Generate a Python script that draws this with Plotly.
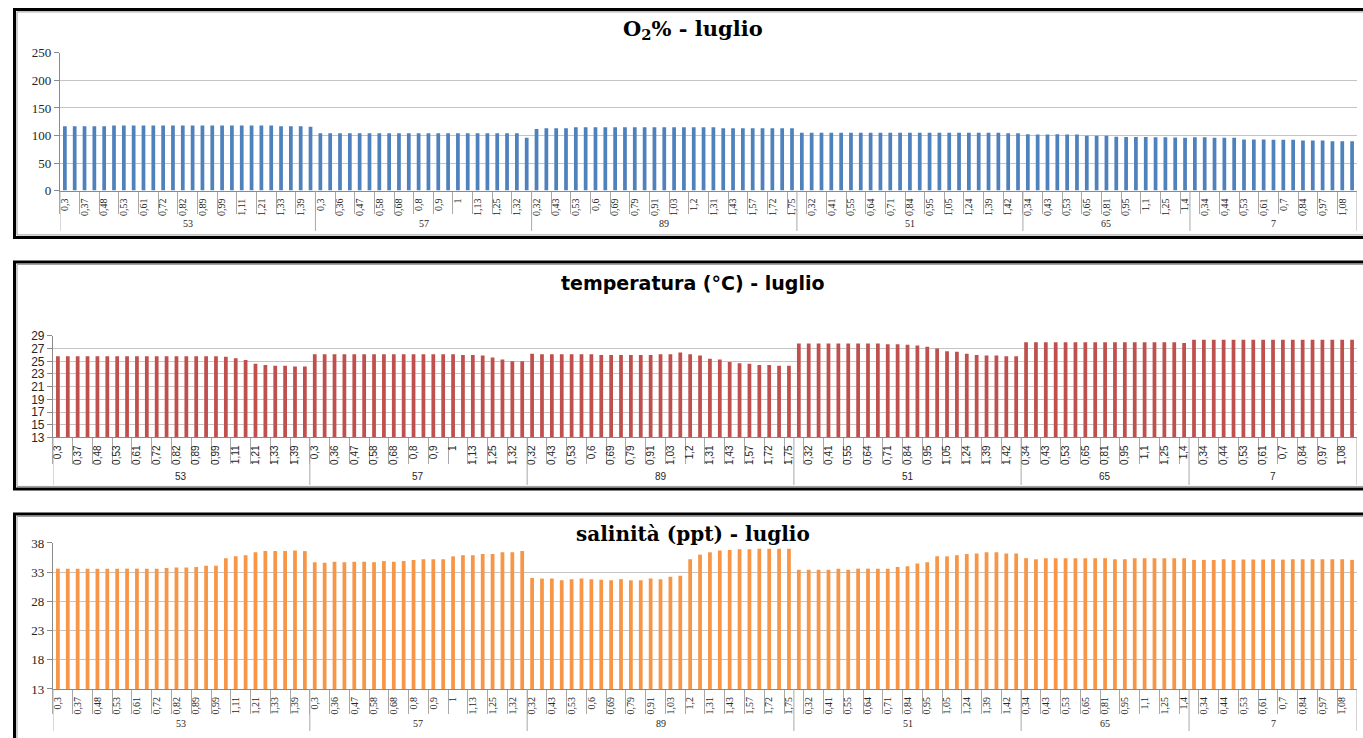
import plotly.graph_objects as go

# ---------------- data ----------------
stations = ["53", "57", "89", "51", "65", "7"]

# depth labels (only every other label is shown on the original axis; "" = not shown)
depth_53 = ["0,3", "", "0,37", "", "0,48", "", "0,53", "", "0,61", "", "0,72", "", "0,82", "",
            "0,89", "", "0,99", "", "1,11", "", "1,21", "", "1,33", "", "1,39", ""]
depth_57 = ["0,3", "", "0,36", "", "0,47", "", "0,58", "", "0,68", "", "0,8", "", "0,9", "",
            "1", "", "1,13", "", "1,25", "", "1,32", ""]
depth_89 = ["0,32", "", "0,43", "", "0,53", "", "0,6", "", "0,69", "", "0,79", "", "0,91", "",
            "1,03", "", "1,2", "", "1,31", "", "1,43", "", "1,57", "", "1,72", "", "1,75"]
depth_51 = ["", "0,32", "", "0,41", "", "0,55", "", "0,64", "", "0,71", "", "0,84", "", "0,95",
            "", "1,05", "", "1,24", "", "1,39", "", "1,42", ""]
depth_65 = ["0,34", "", "0,43", "", "0,53", "", "0,65", "", "0,81", "", "0,95", "", "1,1", "",
            "1,25", "", "1,4"]
depth_7 = ["", "0,34", "", "0,44", "", "0,53", "", "0,61", "", "0,7", "", "0,84", "", "0,97",
           "", "1,08", ""]

o2_53 = [117, 117, 117, 117, 117, 118, 118, 118, 118, 118, 118, 118, 118, 118, 118, 118, 118,
         118, 118, 118, 118, 118, 117, 117, 117, 116]
o2_57 = [104, 104, 104, 104, 104, 104, 104, 104, 104, 104, 104, 104, 104, 104, 104, 104, 104,
         104, 104, 104, 104, 96]
o2_89 = [112, 113, 113, 113, 115, 115, 115, 115, 115, 115, 115, 115, 115, 115, 115, 115, 115,
         115, 115, 113, 113, 113, 113, 113, 113, 113, 113]
o2_51 = [105, 105, 105, 105, 105, 105, 105, 105, 105, 105, 105, 105, 105, 105, 105, 105, 105,
         105, 105, 105, 105, 104, 104]
o2_65 = [102.5, 102, 102, 102.5, 102, 102, 99.5, 99.5, 99.5, 98, 97.5, 97.5, 97.5, 97, 97,
         96.5, 96]
o2_7 = [97, 97, 96, 96, 96, 93, 93, 93, 92.5, 92.5, 92.5, 91, 91, 91, 89.5, 89.5, 89.5]

temp_53 = [25.8, 25.8, 25.8, 25.8, 25.8, 25.8, 25.8, 25.8, 25.8, 25.8, 25.8, 25.8, 25.8, 25.8,
           25.8, 25.8, 25.8, 25.7, 25.5, 25.2, 24.6, 24.4, 24.3, 24.3, 24.2, 24.2]
temp_57 = [26.1, 26.1, 26.1, 26.1, 26.1, 26.1, 26.1, 26.1, 26.1, 26.1, 26.1, 26.1, 26.1, 26.1,
           26.1, 26.0, 26.0, 25.9, 25.6, 25.3, 25.0, 25.0]
temp_89 = [26.2, 26.1, 26.1, 26.1, 26.1, 26.1, 26.1, 26.0, 26.0, 26.0, 26.0, 26.0, 26.0, 26.1,
           26.1, 26.4, 26.1, 25.9, 25.4, 25.3, 24.9, 24.7, 24.6, 24.4, 24.4, 24.3, 24.3]
temp_51 = [27.8, 27.8, 27.8, 27.8, 27.8, 27.8, 27.8, 27.8, 27.8, 27.7, 27.7, 27.6, 27.5, 27.3,
           27.0, 26.6, 26.5, 26.2, 26.0, 25.9, 25.9, 25.8, 25.8]
temp_65 = [28.0, 28.0, 28.0, 28.0, 28.0, 28.0, 28.0, 28.0, 28.0, 28.0, 28.0, 28.0, 28.0, 28.0,
           28.0, 28.0, 27.9]
temp_7 = [28.4, 28.4, 28.4, 28.4, 28.4, 28.4, 28.4, 28.4, 28.4, 28.4, 28.4, 28.4, 28.4, 28.4,
          28.4, 28.4, 28.4]

sal_53 = [33.6, 33.6, 33.6, 33.6, 33.6, 33.6, 33.6, 33.6, 33.6, 33.6, 33.6, 33.7, 33.8, 33.8,
          33.9, 34.1, 34.1, 35.4, 35.7, 35.9, 36.4, 36.6, 36.6, 36.6, 36.7, 36.6]
sal_57 = [34.7, 34.6, 34.8, 34.7, 34.8, 34.8, 34.7, 34.9, 34.8, 34.9, 35.1, 35.2, 35.2, 35.2,
          35.7, 35.9, 35.9, 36.1, 36.1, 36.4, 36.4, 36.6]
sal_89 = [32.0, 31.9, 31.9, 31.6, 31.8, 31.9, 31.8, 31.7, 31.6, 31.8, 31.6, 31.6, 31.9, 31.8,
          32.2, 32.4, 35.2, 36.0, 36.4, 36.7, 36.8, 36.9, 36.9, 37.0, 37.0, 37.0, 37.0]
sal_51 = [33.4, 33.4, 33.4, 33.4, 33.6, 33.4, 33.6, 33.6, 33.6, 33.6, 33.9, 34.0, 34.5, 34.7,
          35.7, 35.7, 35.9, 36.1, 36.2, 36.4, 36.4, 36.2, 36.2]
sal_65 = [35.4, 35.2, 35.4, 35.4, 35.4, 35.4, 35.4, 35.4, 35.4, 35.2, 35.2, 35.4, 35.4, 35.4,
          35.4, 35.4, 35.4]
sal_7 = [35.1, 35.1, 35.1, 35.2, 35.1, 35.15, 35.15, 35.15, 35.2, 35.15, 35.2, 35.2, 35.2, 35.2,
         35.2, 35.2, 35.1]

o2_ticks = [0, 50, 100, 150, 200, 250]
temp_ticks = [13, 15, 17, 19, 21, 23, 25, 27, 29]
sal_ticks = [13, 18, 23, 28, 33, 38]

# ---------------- assemble ----------------
depth_groups = [depth_53, depth_57, depth_89, depth_51, depth_65, depth_7]
o2_all = o2_53 + o2_57 + o2_89 + o2_51 + o2_65 + o2_7
temp_all = temp_53 + temp_57 + temp_89 + temp_51 + temp_65 + temp_7
sal_all = sal_53 + sal_57 + sal_89 + sal_51 + sal_65 + sal_7
depth_all = [d for g in depth_groups for d in g]
N = len(depth_all)
xs = list(range(N))

tickvals = [i for i, d in enumerate(depth_all) if d]
ticktext = [depth_all[i] for i in tickvals]
minor_vals = [i - 0.5 for i in tickvals]

group_starts = []
s = 0
for g in depth_groups:
    group_starts.append(s)
    s += len(g)
boundaries = [st - 0.5 for st in group_starts] + [N - 0.5]
centers = [st + (len(g) - 1) / 2 for st, g in zip(group_starts, depth_groups)]

W, H = 1363, 738
# the photographed page maps layout y to screen y as  y_screen = 0.9796 * y + 7.1
Y_SCALE, Y_OFF = 0.9796, 7.1


def fx(p):
    return p / W


def fy(p):
    return 1 - ((p - Y_OFF) / Y_SCALE) / H


SERIF = "Liberation Serif, Times New Roman, serif"
SANS = "Liberation Sans, Arial, sans-serif"
GRID = "#c4c4c4"
AXIS = "#8a8a8a"
TXT = "#262626"

panels = [
    dict(vals=o2_all, color="#4F81BD", ticks=o2_ticks, rng=[0, 250], font=SERIF, ysize=13,
         left=59, top=53, bottom=190.7, tick_bottom=213, group_y=224, div_bottom=231,
         title="O<sub>2</sub>% - luglio", title_y=30, title_size=21,
         title_font="DejaVu Serif, serif", frame=(9.5, 237.5)),
    dict(vals=temp_all, color="#C0504D", ticks=temp_ticks, rng=[13, 29], font=SANS, ysize=12,
         left=52, top=336, bottom=437.5, tick_bottom=463, group_y=477, div_bottom=485,
         title="temperatura (°C) - luglio", title_y=283, title_size=19,
         title_font="DejaVu Sans, sans-serif", frame=(262, 489)),
    dict(vals=sal_all, color="#F79646", ticks=sal_ticks, rng=[13, 38], font=SERIF, ysize=13,
         left=52, top=543, bottom=689, tick_bottom=713, group_y=724, div_bottom=731,
         title="salinità (ppt) - luglio", title_y=534, title_size=20,
         title_font="DejaVu Serif, serif", frame=(514, 760)),
]

fig = go.Figure()
layout = dict(width=W, height=H, margin=dict(l=0, r=0, t=0, b=0), autosize=False,
              paper_bgcolor="white", plot_bgcolor="white", showlegend=False,
              bargap=0.6)
shapes = []
annotations = []

for k, p in enumerate(panels):
    sfx = "" if k == 0 else str(k + 1)
    xa, ya = "x" + sfx, "y" + sfx
    fig.add_trace(go.Bar(x=xs, y=p["vals"], marker=dict(color=p["color"], line=dict(width=0)),
                         xaxis=xa, yaxis=ya, width=0.38, hoverinfo="x+y"))
    tick_len = (p["tick_bottom"] - p["bottom"]) / Y_SCALE
    layout["xaxis" + sfx] = dict(
        domain=[fx(p["left"]), fx(1357)], anchor=ya, range=[-0.5, N - 0.5],
        tickmode="array", tickvals=tickvals, ticktext=ticktext, tickangle=-90,
        tickfont=dict(family=p["font"], size=10, color=TXT),
        ticks="outside", ticklen=3, tickcolor="rgba(0,0,0,0)",
        showline=True, linecolor=AXIS, linewidth=1, showgrid=False, zeroline=False,
        minor=dict(tickmode="array", tickvals=minor_vals, ticks="outside",
                   ticklen=tick_len, tickcolor="#a8a8a8", tickwidth=1),
        fixedrange=True)
    layout["yaxis" + sfx] = dict(
        domain=[fy(p["bottom"]), fy(p["top"])], anchor=xa, range=p["rng"],
        tickmode="array", tickvals=p["ticks"],
        tickfont=dict(family=p["font"], size=p["ysize"], color=TXT),
        ticks="outside", ticklen=5, tickcolor=AXIS,
        showline=True, linecolor=AXIS, linewidth=1,
        showgrid=True, gridcolor=GRID, gridwidth=1, zeroline=False, fixedrange=True)

    # group divider lines & group labels
    for b in boundaries:
        shapes.append(dict(type="line", xref=xa, yref="paper", x0=b, x1=b,
                           y0=fy(p["bottom"]), y1=fy(p["div_bottom"]),
                           line=dict(color="#a8a8a8", width=1)))
    for c, st in zip(centers, stations):
        annotations.append(dict(xref=xa, yref="paper", x=c, y=fy(p["group_y"]),
                                text=st, showarrow=False, xanchor="center", yanchor="middle",
                                font=dict(family=p["font"], size=10, color=TXT)))
    # title
    annotations.append(dict(xref="paper", yref="paper", x=fx(693), y=fy(p["title_y"]),
                            text="<b>" + p["title"] + "</b>", showarrow=False,
                            xanchor="center", yanchor="middle",
                            font=dict(family=p["title_font"], size=p["title_size"],
                                      color="black")))
    # frame
    t, bt = p["frame"]
    shapes.append(dict(type="rect", xref="paper", yref="paper", x0=fx(13.5), x1=fx(1400),
                       y0=fy(bt), y1=fy(t), line=dict(color="black", width=3),
                       fillcolor="rgba(0,0,0,0)", layer="above"))
    shapes.append(dict(type="rect", xref="paper", yref="paper", x0=fx(16), x1=fx(1400),
                       y0=fy(bt - 2.5), y1=fy(t + 2.5), line=dict(color="#9a9a9a", width=1),
                       fillcolor="rgba(0,0,0,0)", layer="above"))

layout["shapes"] = shapes
layout["annotations"] = annotations
fig.update_layout(**layout)
fig.write_html(
    "out.html",
    config={"displayModeBar": False},
    post_script=(
        "document.documentElement.style.margin='0';"
        "document.documentElement.style.overflow='hidden';"
        "document.body.style.margin='0';"
        "document.body.style.overflow='hidden';"
        "var d=document.getElementById('{plot_id}');"
        "d.style.position='fixed';d.style.left='0px';d.style.top='0px';"
    ),
)
